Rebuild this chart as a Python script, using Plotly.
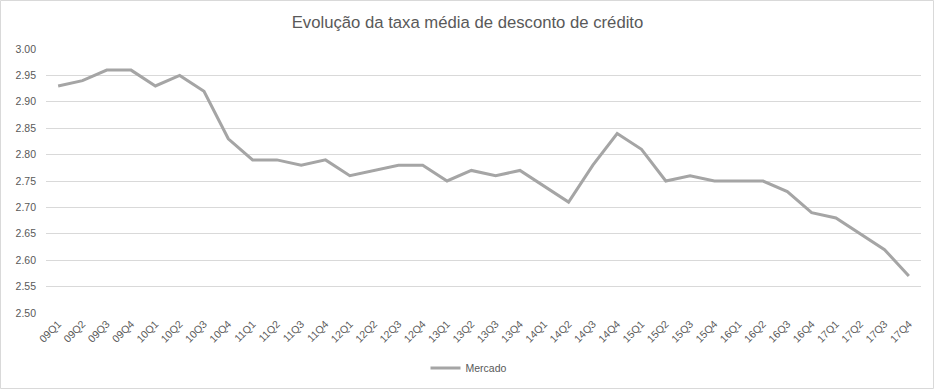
import plotly.graph_objects as go

quarters = ["09Q1","09Q2","09Q3","09Q4","10Q1","10Q2","10Q3","10Q4",
            "11Q1","11Q2","11Q3","11Q4","12Q1","12Q2","12Q3","12Q4",
            "13Q1","13Q2","13Q3","13Q4","14Q1","14Q2","14Q3","14Q4",
            "15Q1","15Q2","15Q3","15Q4","16Q1","16Q2","16Q3","16Q4",
            "17Q1","17Q2","17Q3","17Q4"]
mercado = [2.93,2.94,2.96,2.96,2.93,2.95,2.92,2.83,
           2.79,2.79,2.78,2.79,2.76,2.77,2.78,2.78,
           2.75,2.77,2.76,2.77,2.74,2.71,2.78,2.84,
           2.81,2.75,2.76,2.75,2.75,2.75,2.73,2.69,
           2.68,2.65,2.62,2.57]

W, H = 935, 390
ml, mr, mt, mb = 46, 14, 49, 77
pw, ph = W - ml - mr, H - mt - mb

fig = go.Figure()
fig.add_trace(go.Scatter(x=quarters, y=mercado, mode="lines", name="Mercado",
                         line=dict(color="#A5A5A5", width=3)))

fig.update_layout(
    width=W, height=H,
    margin=dict(l=ml, r=mr, t=mt, b=mb, autoexpand=False),
    paper_bgcolor="white", plot_bgcolor="white",
    font=dict(family="Liberation Sans, Arial, sans-serif", color="#595959", size=10),
    title=dict(text="Evolução da taxa média de desconto de crédito",
               xref="container", x=0.5, xanchor="center",
               yref="container", y=1 - 22 / H, yanchor="middle",
               font=dict(size=16.7, color="#595959")),
    showlegend=True,
    legend=dict(orientation="h", x=(469 - ml) / pw, xanchor="center",
                y=-(368 - (mt + ph)) / ph, yanchor="middle",
                font=dict(size=10.5, color="#595959")),
    xaxis=dict(type="category", range=[-0.5, 35.5], tickangle=-45,
               showgrid=False, showline=False, ticks="", automargin=False,
               ticklabelstandoff=2,
               tickfont=dict(size=10.5, color="#595959")),
    yaxis=dict(range=[2.5, 3.0], dtick=0.05, tickformat=".2f",
               showgrid=True, gridcolor="#D9D9D9", gridwidth=1,
               zeroline=False, showline=False, ticks="", automargin=False,
               ticklabelstandoff=9,
               tickfont=dict(size=10.5, color="#595959")),
    shapes=[dict(type="rect", xref="paper", yref="paper",
                 x0=(0.5 - ml) / pw, x1=(W - 1.5 - ml) / pw,
                 y0=-(H - 1.5 - mt - ph) / ph, y1=1 + (mt - 0.5) / ph,
                 line=dict(color="#D9D9D9", width=1), layer="below")],
)

fig.write_html("out.html",
               config={"displayModeBar": False},
               post_script="document.body.style.margin='0';document.body.style.overflow='hidden';")
